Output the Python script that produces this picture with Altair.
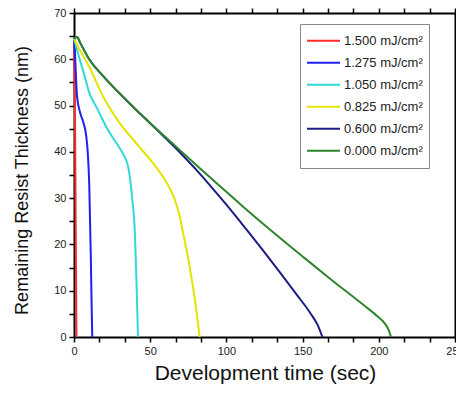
import altair as alt
import pandas as pd

doses = ["1.500 mJ/cm²", "1.275 mJ/cm²", "1.050 mJ/cm²",
         "0.825 mJ/cm²", "0.600 mJ/cm²", "0.000 mJ/cm²"]
colors = ["#ff2a2a", "#2020f0", "#30d8d8", "#e4e400", "#1c1c84", "#2d852d"]

t_1500 = [0, 0.3, 0.7, 1.0, 1.3, 1.6]
h_1500 = [64.5, 57, 45, 30, 15, 0]

t_1275 = [0, 0.5, 2, 4, 6, 8, 9, 10, 11, 11.5, 12]
h_1275 = [64.5, 62, 52, 48.5, 46.5, 43.5, 40, 33, 18, 8, 0]

t_1050 = [0, 2, 6, 10, 15, 21, 28, 32, 34, 35.5, 36.8, 38, 40, 41, 42]
h_1050 = [64.5, 62, 57.5, 52.8, 49.5, 45.5, 41.8, 39.7, 38.4, 36.8, 34.2, 30.5, 22, 12, 0]

t_0825 = [0, 3, 10, 19, 30, 41, 52, 58, 63, 66, 69, 72, 76, 80, 82.5]
h_0825 = [64.5, 62.5, 58.4, 52, 46.2, 41.8, 37.5, 34.8, 32, 29.8, 26.5, 21.8, 15, 6.5, 0]

t_0600 = [0, 2, 4, 10, 19, 30, 41, 50, 60, 70, 80, 93, 102, 113, 124, 135, 146, 155, 160, 163]
h_0600 = [64.5, 64.8, 63.6, 60.0, 56.4, 52.6, 49.0, 46.2, 43.0, 39.7, 36.2, 31.3, 27.8, 23.3,
          18.7, 14.0, 9.2, 5.2, 2.5, 0]

t_0000 = [0, 2, 4, 10, 19, 30, 41, 50, 60, 70, 80, 93, 104, 115, 137, 150, 168, 190, 199, 204, 206.5, 208]
h_0000 = [64.5, 64.8, 63.6, 60.0, 56.4, 52.6, 49.0, 46.2, 43.2, 40.2, 37.2, 33.4, 30.2, 27.0,
          20.9, 17.4, 12.6, 6.9, 4.5, 2.9, 1.5, 0]

times = [t_1500, t_1275, t_1050, t_0825, t_0600, t_0000]
heights = [h_1500, h_1275, h_1050, h_0825, h_0600, h_0000]

x_ticks = [i * 50 / 3 for i in range(16)]
y_ticks = list(range(0, 75, 5))

rows = []
for d, ts, hs in zip(doses, times, heights):
    for t, h in zip(ts, hs):
        rows.append({"dose": d, "t": t, "h": h})
df = pd.DataFrame(rows)

FONT = "Liberation Sans"
xs = alt.Scale(domain=[0, 250], nice=False, zero=False)
ys = alt.Scale(domain=[0, 70], nice=False, zero=False)

common_axis = dict(grid=False, domainColor="black", domainWidth=2, tickColor="black",
                   tickWidth=1.5, tickSize=5, labelFont=FONT, labelFontSize=11,
                   labelColor="#222", labelOverlap=False, labelFlush=False)

lines = alt.Chart(df).mark_line(strokeWidth=2, interpolate="monotone").encode(
    x=alt.X("t:Q", scale=xs, axis=alt.Axis(
        orient="bottom", values=x_ticks,
        labelExpr="datum.value % 50 == 0 ? datum.label : ''",
        labelPadding=3,
        title="Development time (sec)", titleFont=FONT, titleFontSize=21,
        titleFontWeight="normal", titleColor="#111",
        titleX=191, titleY=36, titleBaseline="middle", titleAlign="center",
        **common_axis)),
    y=alt.Y("h:Q", scale=ys, axis=alt.Axis(
        orient="left", values=y_ticks,
        labelExpr="datum.value % 10 == 0 ? datum.label : ''",
        labelPadding=3,
        title="Remaining Resist Thickness (nm)", titleFont=FONT, titleFontSize=18,
        titleFontWeight="normal", titleColor="#111",
        titleX=-52, titleY=167, titleAngle=-90, titleBaseline="middle",
        titleAlign="center",
        **common_axis)),
    color=alt.Color("dose:N", scale=alt.Scale(domain=doses, range=colors),
                    legend=alt.Legend(orient="none", legendX=226, legendY=11,
                                      title=None, padding=6, strokeColor="#888",
                                      fillColor="white", symbolType="stroke",
                                      symbolSize=1089, symbolStrokeWidth=2,
                                      clipHeight=21.3, rowPadding=0,
                                      labelFont=FONT, labelFontSize=13,
                                      labelColor="#222", labelOffset=3)),
)

frame = alt.Chart(df).mark_line(opacity=0).encode(
    x=alt.X("t:Q", scale=xs, axis=alt.Axis(orient="top", values=x_ticks, labels=False,
                                           title=None, **common_axis)),
    y=alt.Y("h:Q", scale=ys, axis=alt.Axis(orient="right", values=y_ticks, labels=False,
                                           title=None, **common_axis)),
    detail="dose:N",
)

chart = alt.layer(lines, frame).resolve_axis(x="independent", y="independent").properties(
    width=381, height=324,
    autosize=alt.AutoSizeParams(type="none"),
    padding={"left": 66, "top": 5, "right": 1, "bottom": 51},
).configure_view(stroke=None).configure(background="white")

chart.save("out.html", embed_options={"renderer": "svg", "actions": False})
